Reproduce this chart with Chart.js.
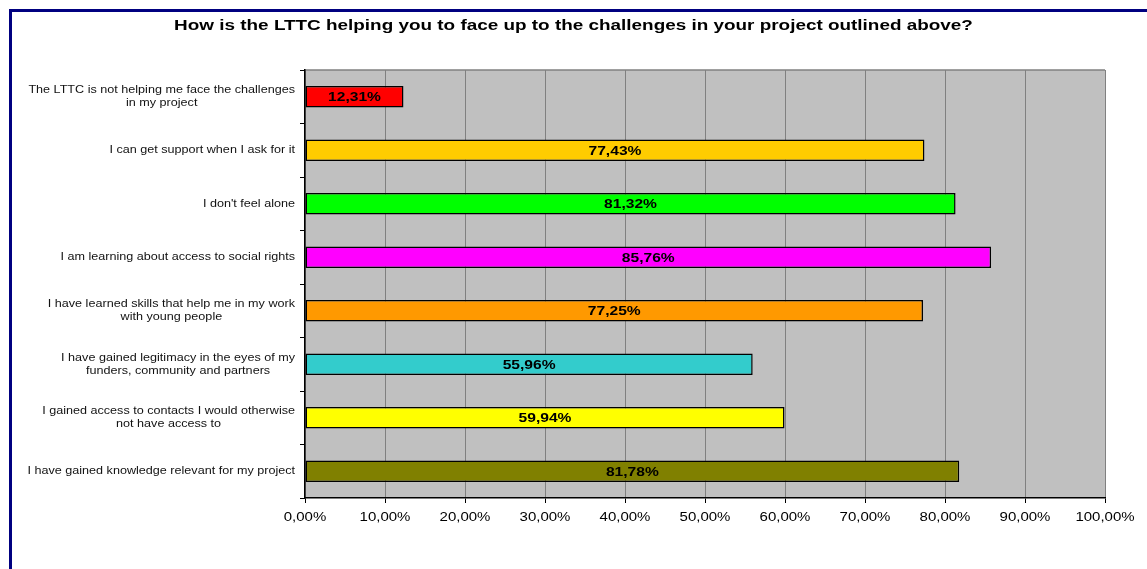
<!DOCTYPE html>
<html>
<head>
<meta charset="utf-8">
<script src="https://cdn.jsdelivr.net/npm/chart.js@4/dist/chart.umd.min.js"></script>
<style>
  html, body { margin: 0; padding: 0; background: #ffffff; overflow: hidden; }
  #frame {
    position: absolute; left: 9px; top: 9px; width: 2000px; height: 2000px;
    border-left: 3px solid #000080; border-top: 3px solid #000080; box-sizing: border-box;
  }
  #c { position: absolute; left: 0; top: 0; }
</style>
</head>
<body>
<div id="frame"></div>
<canvas id="c" width="1147" height="569"></canvas>
<script>
const chartTitle = 'How is the LTTC helping you to face up to the challenges in your project outlined above?';

const categories = [
  ['The LTTC is not helping me face the challenges', 'in my project'],
  ['I can get support when I ask for it'],
  ["I don't feel alone"],
  ['I am learning about access to social rights'],
  ['I have learned skills that help me in my work', 'with young people'],
  ['I have gained legitimacy in the eyes of my', 'funders, community and partners'],
  ['I gained access to contacts I would otherwise', 'not have access to'],
  ['I have gained knowledge relevant for my project']
];

const percentages = [12.31, 77.43, 81.32, 85.76, 77.25, 55.96, 59.94, 81.78];

const barColors = ['#ff0000', '#ffcc00', '#00ff00', '#ff00ff', '#ff9900', '#33cccc', '#ffff00', '#808000'];

const xTickValues = [0, 10, 20, 30, 40, 50, 60, 70, 80, 90, 100];
const xTickLabels = ['0,00%', '10,00%', '20,00%', '30,00%', '40,00%', '50,00%',
                     '60,00%', '70,00%', '80,00%', '90,00%', '100,00%'];

const FONT = "'Liberation Sans', Arial, sans-serif";

function fmtPct(v) {
  return v.toFixed(2).replace('.', ',') + '%';
}

// fillText with a horizontal widening factor; x is the anchor for the given alignment
function wideText(ctx, text, x, y, align, sx) {
  ctx.save();
  ctx.translate(x, y);
  ctx.scale(sx, 1);
  ctx.textAlign = align;
  ctx.fillText(text, 0, 0);
  ctx.restore();
}

// Grey plot background with a grey border on the top edge
const plotBackground = {
  id: 'plotBackground',
  beforeDraw(chart) {
    const { ctx, chartArea: a } = chart;
    ctx.save();
    ctx.fillStyle = '#c0c0c0';
    ctx.fillRect(a.left, a.top, a.right - a.left, a.bottom - a.top);
    ctx.strokeStyle = '#808080';
    ctx.lineWidth = 1.5;
    ctx.beginPath();
    ctx.moveTo(a.left, a.top);
    ctx.lineTo(a.right, a.top);
    ctx.stroke();
    ctx.restore();
  }
};

// Title, category labels and axis tick labels
const textLayer = {
  id: 'textLayer',
  afterDraw(chart) {
    const { ctx } = chart;
    const yScale = chart.scales.y;
    const xScale = chart.scales.x;
    ctx.save();
    ctx.textBaseline = 'middle';

    // title
    ctx.fillStyle = '#000000';
    ctx.font = 'bold 15px ' + FONT;
    wideText(ctx, chartTitle, chart.width / 2, 25.5, 'center', 1.26);

    // category labels: block right-aligned, lines centred on each other
    const catStretch = 1.2;
    ctx.font = '10.5px ' + FONT;
    ctx.fillStyle = '#111111';
    const rightEdge = yScale.right - 10;
    const lineH = 13;
    chart.data.labels.forEach((lines, i) => {
      const w = Math.max(...lines.map(l => ctx.measureText(l).width)) * catStretch;
      const cx = rightEdge - w / 2;
      const cy = yScale.getPixelForValue(i);
      const top = cy - (lines.length - 1) * lineH / 2;
      lines.forEach((l, k) => wideText(ctx, l, cx, top + k * lineH, 'center', catStretch));
    });

    // x tick labels
    ctx.font = '12.5px ' + FONT;
    ctx.fillStyle = '#000000';
    xTickValues.forEach((v, i) => {
      wideText(ctx, xTickLabels[i], xScale.getPixelForValue(v), 518, 'center', 1.2);
    });
    ctx.restore();
  }
};

// Value printed in the middle of each bar
const valueLabels = {
  id: 'valueLabels',
  afterDatasetsDraw(chart) {
    const { ctx } = chart;
    const meta = chart.getDatasetMeta(0);
    const data = chart.data.datasets[0].data;
    ctx.save();
    ctx.font = 'bold 13px ' + FONT;
    ctx.fillStyle = '#000000';
    ctx.textBaseline = 'middle';
    meta.data.forEach((bar, i) => {
      const cx = (bar.x + bar.base) / 2;
      wideText(ctx, fmtPct(data[i]), cx, bar.y + 1, 'center', 1.2);
    });
    ctx.restore();
  }
};

new Chart(document.getElementById('c'), {
  type: 'bar',
  data: {
    labels: categories,
    datasets: [{
      data: percentages,
      backgroundColor: barColors,
      borderColor: '#000000',
      borderWidth: 1.5,
      borderSkipped: false,
      barPercentage: 0.4,
      categoryPercentage: 1.0
    }]
  },
  options: {
    indexAxis: 'y',
    responsive: false,
    animation: false,
    devicePixelRatio: 1,
    layout: { padding: { left: 0, right: 42, top: 70, bottom: 0 } },
    plugins: {
      legend: { display: false },
      tooltip: { enabled: false },
      title: { display: false }
    },
    scales: {
      x: {
        min: 0,
        max: 100,
        ticks: {
          stepSize: 10,
          font: { family: FONT, size: 12 },
          padding: 6,
          maxRotation: 0,
          callback: () => ''
        },
        grid: {
          color: '#808080',
          lineWidth: 1,
          drawOnChartArea: true,
          drawTicks: true,
          tickLength: 5,
          tickColor: '#000000'
        },
        border: { display: true, color: '#000000', width: 1.5 },
        afterFit(scale) { scale.height = 71; }
      },
      y: {
        ticks: { display: true, callback: () => '', padding: 0 },
        grid: {
          offset: true,
          drawOnChartArea: false,
          drawTicks: true,
          tickLength: 5,
          tickColor: '#000000'
        },
        border: { display: true, color: '#000000', width: 1.5 },
        afterFit(scale) { scale.width = 305; }
      }
    }
  },
  plugins: [plotBackground, textLayer, valueLabels]
});
</script>
</body>
</html>
